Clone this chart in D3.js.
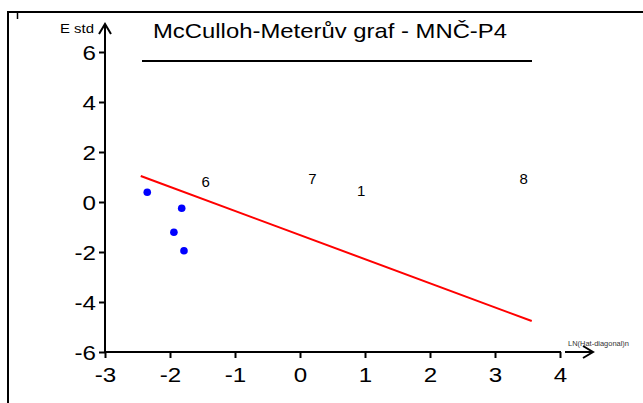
<!DOCTYPE html>
<html>
<head>
<meta charset="utf-8">
<script src="https://cdn.jsdelivr.net/npm/d3@7"></script>
<style>
  html, body { margin: 0; padding: 0; background: #fff; }
  svg { display: block; font-family: "Liberation Sans", Arial, sans-serif; }
</style>
</head>
<body>
<svg id="chart" width="643" height="403"></svg>
<script>
// Residual points (blue dots)
const pointX = [-2.35, -1.82, -1.94, -1.785];
const pointY = [0.39, -0.25, -1.21, -1.95];

// Numbered point labels
const labelText = ["6", "7", "1", "8"];
const labelX = [-1.45, 0.19, 0.94, 3.44];
const labelY = [0.8, 0.92, 0.45, 0.92];

// Fitted red line endpoints
const lineX = [-2.45, 3.565];
const lineY = [1.04, -4.76];

// Axis ticks
const xTicks = [-3, -2, -1, 0, 1, 2, 3, 4];
const yTicks = [-6, -4, -2, 0, 2, 4, 6];

const titleText = "McCulloh-Meterův graf - MNČ-P4";
const xLabel = "LN(Hat-diagonal)n";
const yLabel = "E std";

const svg = d3.select("#chart");

const x = d3.scaleLinear().domain([-3, 4]).range([105, 560]);
const y = d3.scaleLinear().domain([-6, 6]).range([352, 52]);

// Plain hyphen for negative numbers
const fmt = d => String(d);
const stretch = 1.15;

// Outer frame (top and left edges)
svg.append("line").attr("x1", 7).attr("x2", 643).attr("y1", 12).attr("y2", 12)
  .attr("stroke", "#000").attr("stroke-width", 2);
svg.append("line").attr("x1", 8).attr("x2", 8).attr("y1", 11).attr("y2", 403)
  .attr("stroke", "#000").attr("stroke-width", 2);
svg.append("line").attr("x1", 17.5).attr("x2", 17.5).attr("y1", 12).attr("y2", 19)
  .attr("stroke", "#000").attr("stroke-width", 1.5);

// Title and rule below it
svg.append("text").attr("x", 153).attr("y", 38)
  .attr("font-size", 21).attr("fill", "#000")
  .attr("textLength", 354).attr("lengthAdjust", "spacingAndGlyphs")
  .text(titleText);
svg.append("line").attr("x1", 142).attr("x2", 532).attr("y1", 61).attr("y2", 61)
  .attr("stroke", "#000").attr("stroke-width", 2);

// Axes
const xAxis = d3.axisBottom(x).tickValues(xTicks).tickSize(6).tickPadding(9).tickFormat(fmt);
const yAxis = d3.axisLeft(y).tickValues(yTicks).tickSize(6).tickPadding(3).tickFormat(fmt);

const gx = svg.append("g").attr("transform", `translate(0,${y(-6)})`).call(xAxis);
const gy = svg.append("g").attr("transform", `translate(${x(-3)},0)`).call(yAxis);

[gx, gy].forEach(g => {
  g.select(".domain").remove();
  g.selectAll(".tick line").attr("stroke", "#000").attr("stroke-width", 2);
  g.selectAll(".tick text").attr("fill", "#000").attr("font-size", 21)
    .attr("font-family", "Liberation Sans, Arial, sans-serif");
});
gy.selectAll(".tick text").attr("dy", "0.36em")
  .attr("x", -9 / stretch)
  .attr("transform", `scale(${stretch},1)`);
gx.selectAll(".tick text").attr("transform", `scale(${stretch},1)`);

// Axis lines with arrows
svg.append("line").attr("x1", x(-3)).attr("x2", x(-3)).attr("y1", y(-6) + 1).attr("y2", 24)
  .attr("stroke", "#000").attr("stroke-width", 2);
svg.append("path").attr("d", `M${x(-3) - 6},${34} L${x(-3)},${24} L${x(-3) + 6},${34}`)
  .attr("fill", "none").attr("stroke", "#000").attr("stroke-width", 2);

svg.append("line").attr("x1", x(-3) - 1).attr("x2", x(4) + 1).attr("y1", y(-6)).attr("y2", y(-6))
  .attr("stroke", "#000").attr("stroke-width", 2);
svg.append("line").attr("x1", 565).attr("x2", 593).attr("y1", y(-6)).attr("y2", y(-6))
  .attr("stroke", "#000").attr("stroke-width", 2);
svg.append("path").attr("d", `M583,${y(-6) - 6} L593,${y(-6)} L583,${y(-6) + 6}`)
  .attr("fill", "none").attr("stroke", "#000").attr("stroke-width", 2);

// Axis titles
svg.append("text").attr("x", 60).attr("y", 33)
  .attr("font-size", 13).attr("fill", "#000")
  .attr("textLength", 34).attr("lengthAdjust", "spacingAndGlyphs").text(yLabel);
svg.append("text").attr("x", 568).attr("y", 346)
  .attr("font-size", 7.5).attr("fill", "#333")
  .attr("textLength", 61).attr("lengthAdjust", "spacingAndGlyphs").text(xLabel);

// Fitted line
svg.append("line")
  .attr("x1", x(lineX[0])).attr("y1", y(lineY[0]))
  .attr("x2", x(lineX[1])).attr("y2", y(lineY[1]))
  .attr("stroke", "#ff0000").attr("stroke-width", 2);

// Points
svg.append("g").selectAll("circle").data(pointX.map((d, i) => [d, pointY[i]]))
  .join("circle")
  .attr("cx", d => x(d[0])).attr("cy", d => y(d[1])).attr("r", 3.8)
  .attr("fill", "#0000ff");

// Point labels
svg.append("g").selectAll("text").data(labelText.map((t, i) => [t, labelX[i], labelY[i]]))
  .join("text")
  .attr("x", d => x(d[1])).attr("y", d => y(d[2]))
  .attr("dy", "0.35em").attr("text-anchor", "middle")
  .attr("font-size", 15).attr("fill", "#000")
  .text(d => d[0]);
</script>
</body>
</html>
